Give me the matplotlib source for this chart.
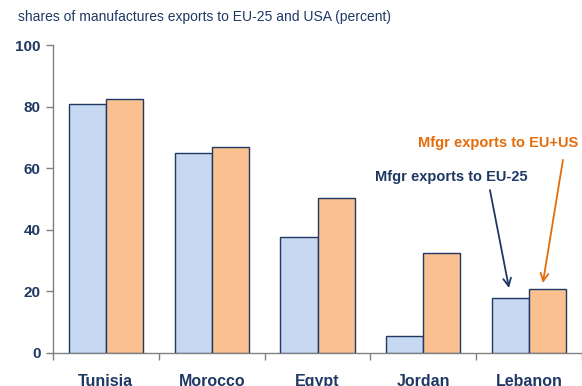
import matplotlib
matplotlib.use("Agg")
import matplotlib.pyplot as plt
import numpy as np

plt.rcParams['font.family'] = ['Liberation Sans', 'DejaVu Sans']

countries = ["Tunisia", "Morocco", "Egypt", "Jordan", "Lebanon"]
eu25 = [81.0, 64.8, 37.8, 5.5, 17.7]
eu_us = [82.4, 67.0, 50.4, 32.6, 20.8]
yticks = [0, 20, 40, 60, 80, 100]

navy = "#1F3864"
orange = "#E46C0A"
blue_fill = "#C6D9F1"
orange_fill = "#FAC090"

fig = plt.figure(figsize=(5.82, 3.86), dpi=100)
ax = fig.add_axes([53/582, 1-353/386, 529/582, (353-45)/386])

x = np.arange(len(countries))
w = 0.35
ax.bar(x - w/2, eu25, w, color=blue_fill, edgecolor=navy, linewidth=1.0, zorder=3)
ax.bar(x + w/2, eu_us, w, color=orange_fill, edgecolor=navy, linewidth=1.0, zorder=3)

ax.set_xlim(-0.5, len(countries) - 0.5)
ax.set_ylim(0, 100)
ax.set_yticks(yticks)
ax.set_yticklabels([str(v) for v in yticks], fontsize=11, fontweight='bold', color=navy)

# category separators as minor ticks, labels at centers
ax.set_xticks(x)
ax.set_xticklabels(countries, fontsize=11.5, fontweight='bold', color=navy)
ax.tick_params(axis='x', which='major', length=0, pad=15)
ax.set_xticks(np.arange(len(countries) + 1) - 0.5, minor=True)
ax.tick_params(axis='x', which='minor', length=5, color='#808080', width=1)
ax.tick_params(axis='y', length=5, color='#808080', width=1, pad=4)

for s in ['top', 'right']:
    ax.spines[s].set_visible(False)
for s in ['left', 'bottom']:
    ax.spines[s].set_color('#808080')
    ax.spines[s].set_linewidth(1)

fig.text(18/582, 1-17/386, "shares of manufactures exports to EU-25 and USA (percent)",
         fontsize=10, color=navy, ha='left', va='center')

# series labels
ax.text(3.99, 57.1, "Mfgr exports to EU-25", fontsize=10.5, fontweight='bold',
        color=navy, ha='right', va='center')
ax.text(4.46, 68.2, "Mfgr exports to EU+US", fontsize=10.5, fontweight='bold',
        color=orange, ha='right', va='center')

# arrows pointing at the Lebanon bars
ax.annotate("", xy=(3.81, eu25[4] + 3.4), xytext=(3.63, 52.9),
            arrowprops=dict(arrowstyle='->', color=navy, lw=1.3,
                            mutation_scale=14, shrinkA=0, shrinkB=0))
ax.annotate("", xy=(4.13, eu_us[4] + 1.9), xytext=(4.32, 62.7),
            arrowprops=dict(arrowstyle='->', color=orange, lw=1.3,
                            mutation_scale=14, shrinkA=0, shrinkB=0))

fig.savefig("out.png", dpi=100)
